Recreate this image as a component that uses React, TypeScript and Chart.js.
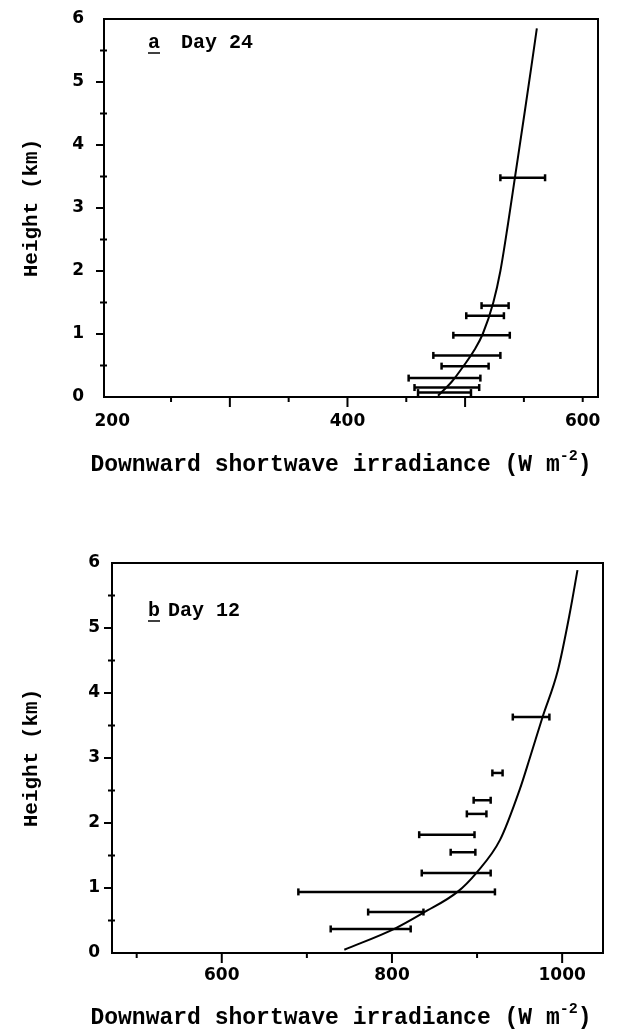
import React, { useEffect, useRef } from "react";
import { Chart, registerables } from "chart.js";
Chart.register(...registerables);

// ---- shared axis labels ----
const heightTicks = [0, 1, 2, 3, 4, 5, 6];

// ---- panel a : Day 24 ----
const aFluxTicks = [200, 400, 600];
const aCurveHeight = [0.02, 0.25, 0.5, 0.75, 1.0, 1.5, 2.0, 2.75, 3.5, 4.5, 5.2, 5.85];
const aCurveFlux = [477, 489, 499, 508, 515, 524, 530, 536.5, 542.5, 550.5, 556, 561];
const aBarHeight = [3.48, 1.45, 1.29, 0.98, 0.66, 0.49, 0.3, 0.15, 0.07];
const aBarLow = [530, 514, 501, 490, 473, 480, 452, 457, 460];
const aBarHigh = [568, 537, 533, 538, 530, 520, 513, 512, 505];

// ---- panel b : Day 12 ----
const bFluxTicks = [600, 800, 1000];
const bCurveHeight = [0.05, 0.38, 0.62, 0.94, 1.23, 1.74, 2.51, 3.0, 3.63, 4.35, 5.23, 5.89];
const bCurveFlux = [744, 804, 837, 877, 899, 927, 950, 962, 977, 995, 1009, 1018];
const bBarHeight = [3.63, 2.77, 2.35, 2.14, 1.82, 1.55, 1.23, 0.94, 0.63, 0.37];
const bBarLow = [942, 918, 896, 888, 832, 869, 835, 690, 772, 728];
const bBarHigh = [985, 930, 916, 911, 897, 898, 916, 921, 837, 822];

const MONO = '"Liberation Mono", "DejaVu Sans Mono", monospace';
const SANS = '"DejaVu Sans", sans-serif';

type Panel = {
  top: number;
  height: number;
  xMin: number;
  xMax: number;
  xTicks: number[];
  xMarks: [number, boolean][];
  curveH: number[];
  curveF: number[];
  barH: number[];
  barLo: number[];
  barHi: number[];
  letter: string;
  day: string;
  letterX: number;
  dayX: number;
  labelY: number;
  pad: { top: number; right: number; left: number; bottom: number };
  yAxisW: number;
  xAxisH: number;
  xTickPad: number;
  yTickPad: number;
  xTitleY: number;
  xTitleCX: number;
};

const panels: Panel[] = [
  {
    top: 0,
    height: 520,
    xMin: 193,
    xMax: 613,
    xTicks: aFluxTicks,
    xMarks: [[250, false], [300, true], [350, false], [400, true], [450, false], [500, true], [550, false], [600, false]],
    curveH: aCurveHeight,
    curveF: aCurveFlux,
    barH: aBarHeight,
    barLo: aBarLow,
    barHi: aBarHigh,
    letter: "a",
    day: "Day 24",
    letterX: 148,
    dayX: 181,
    labelY: 48,
    pad: { top: 19, right: 19, left: 19, bottom: 43 },
    yAxisW: 85,
    xAxisH: 80,
    xTickPad: 14,
    yTickPad: 20,
    xTitleY: 464,
    xTitleCX: 341,
  },
  {
    top: 520,
    height: 512,
    xMin: 471,
    xMax: 1048,
    xTicks: bFluxTicks,
    xMarks: [[500, false], [600, true], [700, false], [800, true], [900, false], [1000, true]],
    curveH: bCurveHeight,
    curveF: bCurveFlux,
    barH: bBarHeight,
    barLo: bBarLow,
    barHi: bBarHigh,
    letter: "b",
    day: "Day 12",
    letterX: 148,
    dayX: 168,
    labelY: 96,
    pad: { top: 43, right: 14, left: 19, bottom: 9 },
    yAxisW: 93,
    xAxisH: 70,
    xTickPad: 12,
    yTickPad: 12,
    xTitleY: 497,
    xTitleCX: 341,
  },
];

function decorPlugin(p: Panel) {
  return {
    id: "decor",
    afterDraw(chart: any) {
      const { ctx, chartArea } = chart;
      const { left, right, top, bottom } = chartArea;
      const xs = chart.scales.x;
      const ys = chart.scales.y;
      ctx.save();
      ctx.strokeStyle = "#000";
      ctx.fillStyle = "#000";
      ctx.lineWidth = 2;
      ctx.strokeRect(left, top, right - left, bottom - top);
      // y tick marks
      for (let v = 0.5; v < 6; v += 0.5) {
        const py = ys.getPixelForValue(v);
        ctx.beginPath();
        if (Number.isInteger(v)) {
          ctx.moveTo(left - 8, py);
          ctx.lineTo(left, py);
        } else {
          ctx.moveTo(left - 4, py);
          ctx.lineTo(left + 3, py);
        }
        ctx.stroke();
      }
      // x tick marks
      p.xMarks.forEach(([v, major]) => {
        const px = xs.getPixelForValue(v);
        ctx.beginPath();
        ctx.moveTo(px, bottom);
        ctx.lineTo(px, bottom + (major ? 10 : 5));
        ctx.stroke();
      });
      // panel label
      ctx.font = `bold 20px ${MONO}`;
      ctx.textBaseline = "alphabetic";
      ctx.textAlign = "left";
      ctx.fillText(p.letter, p.letterX, p.labelY);
      const lw = ctx.measureText(p.letter).width;
      ctx.lineWidth = 1.5;
      ctx.beginPath();
      ctx.moveTo(p.letterX, p.labelY + 5);
      ctx.lineTo(p.letterX + lw, p.labelY + 5);
      ctx.stroke();
      ctx.fillText(p.day, p.dayX, p.labelY);
      // x-axis title with superscript
      const part1 = "Downward shortwave irradiance (W m";
      const sup = "-2";
      const part3 = ")";
      ctx.font = `bold 23px ${MONO}`;
      const w1 = ctx.measureText(part1).width;
      const w3 = ctx.measureText(part3).width;
      ctx.font = `bold 15px ${MONO}`;
      const ws = ctx.measureText(sup).width;
      const total = w1 + ws + w3;
      const x0 = p.xTitleCX - total / 2;
      const base = p.xTitleY + 7;
      ctx.font = `bold 23px ${MONO}`;
      ctx.fillText(part1, x0, base);
      ctx.font = `bold 15px ${MONO}`;
      ctx.fillText(sup, x0 + w1, base - 11);
      ctx.font = `bold 23px ${MONO}`;
      ctx.fillText(part3, x0 + w1 + ws, base);
      ctx.restore();
    },
  };
}

function buildConfig(p: Panel): any {
  const datasets: any[] = [
    {
      data: p.curveH.map((h, i) => ({ x: p.curveF[i], y: h })),
      showLine: true,
      borderColor: "#000",
      borderWidth: 2,
      pointRadius: 0,
      cubicInterpolationMode: "monotone",
      fill: false,
    },
  ];
  p.barH.forEach((h, i) => {
    datasets.push({
      data: [
        { x: p.barLo[i], y: h },
        { x: p.barHi[i], y: h },
      ],
      showLine: true,
      borderColor: "#000",
      borderWidth: 2.5,
      pointStyle: "line",
      pointRotation: 90,
      pointRadius: 3.5,
      pointBorderWidth: 2.5,
      pointBorderColor: "#000",
      pointBackgroundColor: "#000",
    });
  });
  return {
    type: "scatter",
    data: { datasets },
    options: {
      animation: false,
      responsive: false,
      devicePixelRatio: 1,
      layout: { padding: p.pad },
      plugins: { legend: { display: false }, tooltip: { enabled: false } },
      scales: {
        x: {
          type: "linear",
          min: p.xMin,
          max: p.xMax,
          grid: { display: false, drawTicks: false },
          border: { display: false },
          ticks: {
            color: "#000",
            font: { family: SANS, weight: "bold", size: 17 },
            padding: p.xTickPad,
            autoSkip: false,
            maxRotation: 0,
            callback: (v: any) => String(v),
          },
          afterBuildTicks: (s: any) => {
            s.ticks = p.xTicks.map((v) => ({ value: v }));
          },
          afterFit: (s: any) => {
            s.height = p.xAxisH;
            s.paddingLeft = 0;
            s.paddingRight = 0;
          },
        },
        y: {
          type: "linear",
          min: 0,
          max: 6,
          grid: { display: false, drawTicks: false },
          border: { display: false },
          ticks: {
            color: "#000",
            font: { family: SANS, weight: "bold", size: 17 },
            padding: p.yTickPad,
            callback: (v: any) => String(v),
          },
          afterBuildTicks: (s: any) => {
            s.ticks = heightTicks.map((v) => ({ value: v }));
          },
          afterFit: (s: any) => {
            s.width = p.yAxisW;
            s.paddingTop = 0;
            s.paddingBottom = 0;
          },
          title: {
            display: true,
            text: "Height (km)",
            color: "#000",
            font: { family: MONO, weight: "bold", size: 21 },
            padding: 0,
          },
        },
      },
    },
    plugins: [decorPlugin(p)],
  };
}

function PanelChart({ p }: { p: Panel }) {
  const ref = useRef<HTMLCanvasElement | null>(null);
  useEffect(() => {
    if (!ref.current) return;
    const chart = new Chart(ref.current, buildConfig(p));
    return () => chart.destroy();
  }, [p]);
  return (
    <canvas
      ref={ref}
      width={617}
      height={p.height}
      style={{ position: "absolute", left: 0, top: p.top, width: 617, height: p.height, display: "block" }}
    />
  );
}

export default function App() {
  return (
    <div style={{ position: "absolute", left: 0, top: 0, width: 617, height: 1032, background: "#fff" }}>
      {panels.map((p, i) => (
        <PanelChart key={i} p={p} />
      ))}
    </div>
  );
}
